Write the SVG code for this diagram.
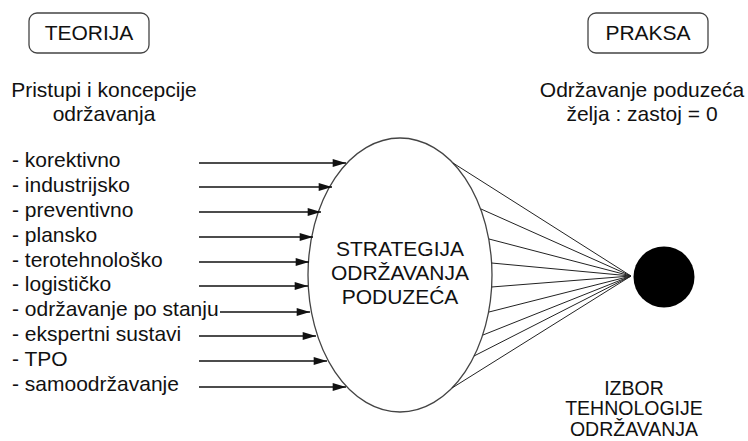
<svg xmlns="http://www.w3.org/2000/svg" width="748" height="441" viewBox="0 0 748 441">
<defs>
<style>
text{font-family:"Liberation Sans",Arial,sans-serif;font-size:21px;fill:#111}
.c{text-anchor:middle}
.s{font-size:19.5px}
.box{fill:#fff;stroke:#444;stroke-width:1.3}
.arr{stroke:#111;stroke-width:1.4;fill:none;marker-end:url(#ah)}
.ln{stroke:#222;stroke-width:1;fill:none}
</style>
<marker id="ah" viewBox="0 0 10 6" refX="10" refY="3" markerUnits="userSpaceOnUse" markerWidth="14" markerHeight="8" orient="auto">
<path d="M0,0 L10,3 L0,6 Z" fill="#111"/>
</marker>
</defs>
<rect width="748" height="441" fill="#fff"/>
<g id="teorija">
<rect class="box" x="29" y="13" width="120" height="40" rx="8"/>
<text class="c" x="89" y="40">TEORIJA</text>
</g>
<g id="praksa">
<rect class="box" x="588" y="13" width="120" height="40" rx="8"/>
<text class="c" x="648" y="40">PRAKSA</text>
</g>
<g id="pristupi">
<text class="c" x="104" y="97">Pristupi i koncepcije</text>
<text class="c" x="104" y="121">održavanja</text>
</g>
<g id="odrzavanje">
<text class="c" x="642" y="97">Održavanje poduzeća</text>
<text class="c" x="642" y="121">želja : zastoj = 0</text>
</g>
<g id="list">
<text x="12" y="167">- korektivno</text>
<text x="12" y="192">- industrijsko</text>
<text x="12" y="217">- preventivno</text>
<text x="12" y="242">- plansko</text>
<text x="12" y="267">- terotehnološko</text>
<text x="12" y="291">- logističko</text>
<text x="12" y="316">- održavanje po stanju</text>
<text x="12" y="341">- ekspertni sustavi</text>
<text x="12" y="366">- TPO</text>
<text x="12" y="391">- samoodržavanje</text>
</g>
<g id="strategija">
<ellipse cx="400" cy="275" rx="92" ry="137" fill="#fff" stroke="#444" stroke-width="1.3"/>
<text class="c" x="400" y="256">STRATEGIJA</text>
<text class="c" x="400" y="280">ODRŽAVANJA</text>
<text class="c" x="400" y="304">PODUZEĆA</text>
</g>
<g id="izbor">
<circle cx="664" cy="277" r="30.5" fill="#000"/>
<text class="c s" x="634" y="395">IZBOR</text>
<text class="c s" x="634" y="415">TEHNOLOGIJE</text>
<text class="c s" x="634" y="436">ODRŽAVANJA</text>
</g>
<g id="connectors">
<line class="arr" x1="199" y1="163" x2="346" y2="163"/>
<line class="arr" x1="199" y1="187" x2="332" y2="187"/>
<line class="arr" x1="199" y1="212" x2="321" y2="212"/>
<line class="arr" x1="199" y1="237" x2="313" y2="237"/>
<line class="arr" x1="199" y1="262" x2="309" y2="262"/>
<line class="arr" x1="199" y1="286" x2="308" y2="286"/>
<line class="arr" x1="220" y1="312" x2="310" y2="312"/>
<line class="arr" x1="199" y1="336" x2="316" y2="336"/>
<line class="arr" x1="199" y1="361" x2="327" y2="361"/>
<line class="arr" x1="199" y1="387" x2="346" y2="387"/>
<line class="ln" x1="453" y1="163" x2="631" y2="276"/>
<line class="ln" x1="481" y1="209" x2="631" y2="276"/>
<line class="ln" x1="489" y1="239" x2="631" y2="276"/>
<line class="ln" x1="491.5" y1="263" x2="631" y2="276"/>
<line class="ln" x1="491.5" y1="287" x2="631" y2="276"/>
<line class="ln" x1="489" y1="312" x2="631" y2="276"/>
<line class="ln" x1="483" y1="335" x2="631" y2="276"/>
<line class="ln" x1="474" y1="356" x2="631" y2="276"/>
<line class="ln" x1="452" y1="388" x2="631" y2="276"/>
</g>
</svg>
